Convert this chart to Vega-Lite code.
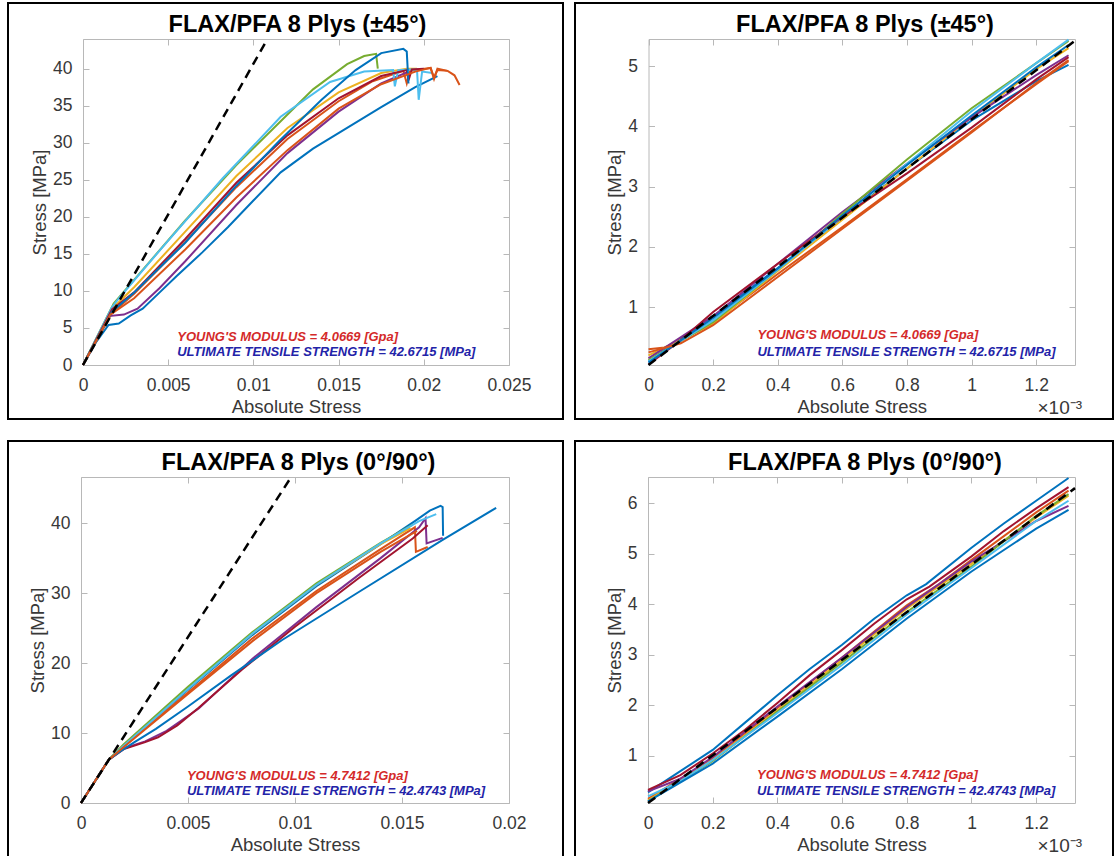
{
  "$schema": "https://vega.github.io/schema/vega-lite/v6.json",
  "background": "white",
  "padding": {"left": 7, "top": 2, "right": 0, "bottom": 0},
  "config": {
    "font": "Liberation Sans",
    "view": {"stroke": "#000000", "strokeWidth": 2},
    "axis": {"grid": false, "domainColor": "#b8b8b8", "domainWidth": 1, "tickColor": "#b8b8b8", "tickSize": -6, "labelFontSize": 17.5, "labelColor": "#383838", "labelFlush": false, "labelOverlap": false, "labelBound": false, "titleFontSize": 18.5, "titleFontWeight": "normal", "titleColor": "#383838", "labelFont": "Liberation Sans", "titleFont": "Liberation Sans"},
    "axisLeft": {"labelPadding": 17, "titlePadding": 3},
    "axisBottom": {"labelPadding": 17, "titlePadding": 4},
    "title": {"fontSize": 23.5, "fontWeight": "bold", "color": "#000000", "font": "Liberation Sans"}
  },
  "datasets": {
    "tl": [
      {"id":"S1","i":0,"strain":0,"stress":0},{"id":"S1","i":1,"strain":0.0008,"stress":3.2},{"id":"S1","i":2,"strain":0.0015,"stress":5.4},{"id":"S1","i":3,"strain":0.0021,"stress":5.6},{"id":"S1","i":4,"strain":0.0028,"stress":6.7},{"id":"S1","i":5,"strain":0.0035,"stress":7.6},{"id":"S1","i":6,"strain":0.0045,"stress":9.8},{"id":"S1","i":7,"strain":0.0055,"stress":12},{"id":"S1","i":8,"strain":0.007,"stress":15.2},{"id":"S1","i":9,"strain":0.0085,"stress":18.6},{"id":"S1","i":10,"strain":0.01,"stress":22.2},{"id":"S1","i":11,"strain":0.0116,"stress":26},{"id":"S1","i":12,"strain":0.0135,"stress":29.2},{"id":"S1","i":13,"strain":0.0155,"stress":32},{"id":"S1","i":14,"strain":0.0175,"stress":34.8},{"id":"S1","i":15,"strain":0.0195,"stress":37.5},{"id":"S1","i":16,"strain":0.0208,"stress":39},
      {"id":"S2","i":0,"strain":0,"stress":0},{"id":"S2","i":1,"strain":0.0017,"stress":7},{"id":"S2","i":2,"strain":0.003,"stress":9.6},{"id":"S2","i":3,"strain":0.006,"stress":16.6},{"id":"S2","i":4,"strain":0.009,"stress":24},{"id":"S2","i":5,"strain":0.012,"stress":30.5},{"id":"S2","i":6,"strain":0.015,"stress":35.6},{"id":"S2","i":7,"strain":0.017,"stress":38.3},{"id":"S2","i":8,"strain":0.0188,"stress":39.7},{"id":"S2","i":9,"strain":0.019,"stress":38},{"id":"S2","i":10,"strain":0.0192,"stress":39.7},{"id":"S2","i":11,"strain":0.0204,"stress":40.1},{"id":"S2","i":12,"strain":0.0206,"stress":38.8},{"id":"S2","i":13,"strain":0.0208,"stress":39.8},{"id":"S2","i":14,"strain":0.0214,"stress":39.7},{"id":"S2","i":15,"strain":0.0218,"stress":39.1},{"id":"S2","i":16,"strain":0.0221,"stress":37.8},
      {"id":"S3","i":0,"strain":0,"stress":0},{"id":"S3","i":1,"strain":0.0018,"stress":7.8},{"id":"S3","i":2,"strain":0.003,"stress":10.5},{"id":"S3","i":3,"strain":0.006,"stress":18},{"id":"S3","i":4,"strain":0.009,"stress":25.5},{"id":"S3","i":5,"strain":0.012,"stress":32},{"id":"S3","i":6,"strain":0.015,"stress":36.8},{"id":"S3","i":7,"strain":0.0175,"stress":39.4},{"id":"S3","i":8,"strain":0.019,"stress":40},{"id":"S3","i":9,"strain":0.0196,"stress":40},
      {"id":"S4","i":0,"strain":0,"stress":0},{"id":"S4","i":1,"strain":0.0015,"stress":6.6},{"id":"S4","i":2,"strain":0.0024,"stress":6.8},{"id":"S4","i":3,"strain":0.0032,"stress":7.6},{"id":"S4","i":4,"strain":0.0045,"stress":10.4},{"id":"S4","i":5,"strain":0.006,"stress":14},{"id":"S4","i":6,"strain":0.009,"stress":21.6},{"id":"S4","i":7,"strain":0.012,"stress":28.6},{"id":"S4","i":8,"strain":0.015,"stress":34.2},{"id":"S4","i":9,"strain":0.0175,"stress":38},{"id":"S4","i":10,"strain":0.019,"stress":39.5},
      {"id":"S5","i":0,"strain":0,"stress":0},{"id":"S5","i":1,"strain":0.0018,"stress":8.3},{"id":"S5","i":2,"strain":0.003,"stress":11.5},{"id":"S5","i":3,"strain":0.006,"stress":19.5},{"id":"S5","i":4,"strain":0.009,"stress":27},{"id":"S5","i":5,"strain":0.0116,"stress":32.9},{"id":"S5","i":6,"strain":0.0135,"stress":37.2},{"id":"S5","i":7,"strain":0.0155,"stress":40.6},{"id":"S5","i":8,"strain":0.0165,"stress":41.7},{"id":"S5","i":9,"strain":0.0172,"stress":42},{"id":"S5","i":10,"strain":0.0173,"stress":40},
      {"id":"S6","i":0,"strain":0,"stress":0},{"id":"S6","i":1,"strain":0.0017,"stress":7.8},{"id":"S6","i":2,"strain":0.0021,"stress":9},{"id":"S6","i":3,"strain":0.005,"stress":16.8},{"id":"S6","i":4,"strain":0.0082,"stress":25.2},{"id":"S6","i":5,"strain":0.0116,"stress":33.5},{"id":"S6","i":6,"strain":0.0145,"stress":38.2},{"id":"S6","i":7,"strain":0.0165,"stress":39.6},{"id":"S6","i":8,"strain":0.0182,"stress":39.8},{"id":"S6","i":9,"strain":0.0183,"stress":37.6},{"id":"S6","i":10,"strain":0.0185,"stress":39.8},{"id":"S6","i":11,"strain":0.0196,"stress":39.9},{"id":"S6","i":12,"strain":0.0197,"stress":35.8},{"id":"S6","i":13,"strain":0.0199,"stress":39.6},{"id":"S6","i":14,"strain":0.0205,"stress":39.4},
      {"id":"S7","i":0,"strain":0,"stress":0},{"id":"S7","i":1,"strain":0.0017,"stress":7.5},{"id":"S7","i":2,"strain":0.003,"stress":9.8},{"id":"S7","i":3,"strain":0.006,"stress":17},{"id":"S7","i":4,"strain":0.009,"stress":24.6},{"id":"S7","i":5,"strain":0.012,"stress":31},{"id":"S7","i":6,"strain":0.015,"stress":36},{"id":"S7","i":7,"strain":0.0175,"stress":39},{"id":"S7","i":8,"strain":0.019,"stress":39.8},{"id":"S7","i":9,"strain":0.0191,"stress":38.4},{"id":"S7","i":10,"strain":0.0193,"stress":39.9},{"id":"S7","i":11,"strain":0.02,"stress":40},
      {"id":"S8","i":0,"strain":0,"stress":0},{"id":"S8","i":1,"strain":0.0017,"stress":7.2},{"id":"S8","i":2,"strain":0.003,"stress":9.8},{"id":"S8","i":3,"strain":0.006,"stress":16.5},{"id":"S8","i":4,"strain":0.009,"stress":24.2},{"id":"S8","i":5,"strain":0.0115,"stress":30.2},{"id":"S8","i":6,"strain":0.014,"stress":35.8},{"id":"S8","i":7,"strain":0.016,"stress":39.8},{"id":"S8","i":8,"strain":0.0175,"stress":42.1},{"id":"S8","i":9,"strain":0.0188,"stress":42.67},{"id":"S8","i":10,"strain":0.019,"stress":42.3},{"id":"S8","i":11,"strain":0.0191,"stress":38},
      {"id":"S9","i":0,"strain":0,"stress":0},{"id":"S9","i":1,"strain":0.0016,"stress":6.8},{"id":"S9","i":2,"strain":0.003,"stress":9},{"id":"S9","i":3,"strain":0.006,"stress":15.6},{"id":"S9","i":4,"strain":0.009,"stress":22.6},{"id":"S9","i":5,"strain":0.012,"stress":29},{"id":"S9","i":6,"strain":0.015,"stress":34.6},{"id":"S9","i":7,"strain":0.0175,"stress":37.9},{"id":"S9","i":8,"strain":0.0195,"stress":39.6},{"id":"S9","i":9,"strain":0.0204,"stress":40.1},{"id":"S9","i":10,"strain":0.0206,"stress":38.6},{"id":"S9","i":11,"strain":0.0208,"stress":40},{"id":"S9","i":12,"strain":0.0214,"stress":39.7}
    ],
    "bl": [
      {"id":"S1","i":0,"strain":0,"stress":0},{"id":"S1","i":1,"strain":0.0013,"stress":6.2},{"id":"S1","i":2,"strain":0.002,"stress":8.2},{"id":"S1","i":3,"strain":0.005,"stress":16.2},{"id":"S1","i":4,"strain":0.008,"stress":24},{"id":"S1","i":5,"strain":0.011,"stress":31},{"id":"S1","i":6,"strain":0.014,"stress":37},{"id":"S1","i":7,"strain":0.0156,"stress":40.3},{"id":"S1","i":8,"strain":0.0163,"stress":41.8},{"id":"S1","i":9,"strain":0.0168,"stress":42.47},{"id":"S1","i":10,"strain":0.0169,"stress":42.3},{"id":"S1","i":11,"strain":0.01692,"stress":38.2},
      {"id":"S2","i":0,"strain":0,"stress":0},{"id":"S2","i":1,"strain":0.0013,"stress":6.2},{"id":"S2","i":2,"strain":0.002,"stress":8.1},{"id":"S2","i":3,"strain":0.005,"stress":15.8},{"id":"S2","i":4,"strain":0.008,"stress":23.5},{"id":"S2","i":5,"strain":0.011,"stress":30.3},{"id":"S2","i":6,"strain":0.014,"stress":36.3},{"id":"S2","i":7,"strain":0.0156,"stress":39.4},{"id":"S2","i":8,"strain":0.01565,"stress":35.9},{"id":"S2","i":9,"strain":0.0162,"stress":36.6},
      {"id":"S3","i":0,"strain":0,"stress":0},{"id":"S3","i":1,"strain":0.0013,"stress":6.2},{"id":"S3","i":2,"strain":0.002,"stress":8.3},{"id":"S3","i":3,"strain":0.005,"stress":16.4},{"id":"S3","i":4,"strain":0.008,"stress":24.2},{"id":"S3","i":5,"strain":0.011,"stress":31.2},{"id":"S3","i":6,"strain":0.014,"stress":37},{"id":"S3","i":7,"strain":0.0154,"stress":39.3},
      {"id":"S4","i":0,"strain":0,"stress":0},{"id":"S4","i":1,"strain":0.0013,"stress":6.2},{"id":"S4","i":2,"strain":0.002,"stress":7.8},{"id":"S4","i":3,"strain":0.003,"stress":8.8},{"id":"S4","i":4,"strain":0.004,"stress":10.3},{"id":"S4","i":5,"strain":0.0055,"stress":13.5},{"id":"S4","i":6,"strain":0.008,"stress":20.6},{"id":"S4","i":7,"strain":0.011,"stress":28},{"id":"S4","i":8,"strain":0.014,"stress":35},{"id":"S4","i":9,"strain":0.0158,"stress":39.4},{"id":"S4","i":10,"strain":0.0161,"stress":40.7},{"id":"S4","i":11,"strain":0.01615,"stress":37.1},{"id":"S4","i":12,"strain":0.0169,"stress":37.9},
      {"id":"S5","i":0,"strain":0,"stress":0},{"id":"S5","i":1,"strain":0.0013,"stress":6.2},{"id":"S5","i":2,"strain":0.002,"stress":8.4},{"id":"S5","i":3,"strain":0.005,"stress":16.6},{"id":"S5","i":4,"strain":0.008,"stress":24.4},{"id":"S5","i":5,"strain":0.011,"stress":31.4},{"id":"S5","i":6,"strain":0.014,"stress":37.2},{"id":"S5","i":7,"strain":0.0155,"stress":39.8},
      {"id":"S6","i":0,"strain":0,"stress":0},{"id":"S6","i":1,"strain":0.0013,"stress":6.2},{"id":"S6","i":2,"strain":0.002,"stress":8.2},{"id":"S6","i":3,"strain":0.005,"stress":16.3},{"id":"S6","i":4,"strain":0.008,"stress":24.2},{"id":"S6","i":5,"strain":0.011,"stress":31.2},{"id":"S6","i":6,"strain":0.014,"stress":37.1},{"id":"S6","i":7,"strain":0.0158,"stress":40.3},{"id":"S6","i":8,"strain":0.0166,"stress":41.3},
      {"id":"S7","i":0,"strain":0,"stress":0},{"id":"S7","i":1,"strain":0.0013,"stress":6.2},{"id":"S7","i":2,"strain":0.002,"stress":7.7},{"id":"S7","i":3,"strain":0.003,"stress":8.7},{"id":"S7","i":4,"strain":0.0036,"stress":9.4},{"id":"S7","i":5,"strain":0.0045,"stress":11.1},{"id":"S7","i":6,"strain":0.0055,"stress":13.6},{"id":"S7","i":7,"strain":0.0075,"stress":19},{"id":"S7","i":8,"strain":0.01,"stress":25.2},{"id":"S7","i":9,"strain":0.013,"stress":32.2},{"id":"S7","i":10,"strain":0.0155,"stress":37.8},{"id":"S7","i":11,"strain":0.0162,"stress":39.7},
      {"id":"S8","i":0,"strain":0,"stress":0},{"id":"S8","i":1,"strain":0.0013,"stress":6.2},{"id":"S8","i":2,"strain":0.0018,"stress":7.3},{"id":"S8","i":3,"strain":0.0025,"stress":8.7},{"id":"S8","i":4,"strain":0.0035,"stress":10.6},{"id":"S8","i":5,"strain":0.005,"stress":13.8},{"id":"S8","i":6,"strain":0.007,"stress":18.2},{"id":"S8","i":7,"strain":0.0094,"stress":23.3},{"id":"S8","i":8,"strain":0.013,"stress":30.2},{"id":"S8","i":9,"strain":0.0169,"stress":37.6},{"id":"S8","i":10,"strain":0.0194,"stress":42.2},
      {"id":"S9","i":0,"strain":0,"stress":0},{"id":"S9","i":1,"strain":0.0013,"stress":6.2},{"id":"S9","i":2,"strain":0.002,"stress":8},{"id":"S9","i":3,"strain":0.005,"stress":15.6},{"id":"S9","i":4,"strain":0.008,"stress":23.1},{"id":"S9","i":5,"strain":0.011,"stress":30},{"id":"S9","i":6,"strain":0.014,"stress":35.9},{"id":"S9","i":7,"strain":0.0157,"stress":38.9}
    ],
    "tr": [
      {"id":"S1","i":0,"strain":0,"stress":0.1},{"id":"S1","i":1,"strain":0.0002,"stress":0.85},{"id":"S1","i":2,"strain":0.0004,"stress":1.65},{"id":"S1","i":3,"strain":0.0006,"stress":2.48},{"id":"S1","i":4,"strain":0.0008,"stress":3.3},{"id":"S1","i":5,"strain":0.001,"stress":4.1},{"id":"S1","i":6,"strain":0.0012,"stress":4.75},{"id":"S1","i":7,"strain":0.0013,"stress":5.02},
      {"id":"S2","i":0,"strain":0,"stress":0.3},{"id":"S2","i":1,"strain":0.00005,"stress":0.33},{"id":"S2","i":2,"strain":0.0001,"stress":0.45},{"id":"S2","i":3,"strain":0.0002,"stress":0.75},{"id":"S2","i":4,"strain":0.0004,"stress":1.55},{"id":"S2","i":5,"strain":0.0006,"stress":2.33},{"id":"S2","i":6,"strain":0.0008,"stress":3.12},{"id":"S2","i":7,"strain":0.001,"stress":3.92},{"id":"S2","i":8,"strain":0.0012,"stress":4.7},{"id":"S2","i":9,"strain":0.0013,"stress":5.08},
      {"id":"S3","i":0,"strain":0,"stress":0.2},{"id":"S3","i":1,"strain":0.0002,"stress":0.72},{"id":"S3","i":2,"strain":0.0004,"stress":1.6},{"id":"S3","i":3,"strain":0.0006,"stress":2.45},{"id":"S3","i":4,"strain":0.0008,"stress":3.3},{"id":"S3","i":5,"strain":0.001,"stress":4.15},{"id":"S3","i":6,"strain":0.0012,"stress":4.95},{"id":"S3","i":7,"strain":0.0013,"stress":5.3},
      {"id":"S4","i":0,"strain":0,"stress":0.15},{"id":"S4","i":1,"strain":0.0002,"stress":0.85},{"id":"S4","i":2,"strain":0.0004,"stress":1.72},{"id":"S4","i":3,"strain":0.0006,"stress":2.58},{"id":"S4","i":4,"strain":0.0008,"stress":3.38},{"id":"S4","i":5,"strain":0.001,"stress":4.15},{"id":"S4","i":6,"strain":0.0012,"stress":4.85},{"id":"S4","i":7,"strain":0.0013,"stress":5.18},
      {"id":"S5","i":0,"strain":0,"stress":0.12},{"id":"S5","i":1,"strain":0.0002,"stress":0.75},{"id":"S5","i":2,"strain":0.0004,"stress":1.62},{"id":"S5","i":3,"strain":0.0006,"stress":2.55},{"id":"S5","i":4,"strain":0.0008,"stress":3.45},{"id":"S5","i":5,"strain":0.001,"stress":4.3},{"id":"S5","i":6,"strain":0.0012,"stress":5.05},{"id":"S5","i":7,"strain":0.0013,"stress":5.42},
      {"id":"S6","i":0,"strain":0,"stress":0.1},{"id":"S6","i":1,"strain":0.0002,"stress":0.78},{"id":"S6","i":2,"strain":0.0004,"stress":1.62},{"id":"S6","i":3,"strain":0.0006,"stress":2.5},{"id":"S6","i":4,"strain":0.0008,"stress":3.38},{"id":"S6","i":5,"strain":0.001,"stress":4.25},{"id":"S6","i":6,"strain":0.0012,"stress":5.05},{"id":"S6","i":7,"strain":0.0013,"stress":5.44},
      {"id":"S7","i":0,"strain":0,"stress":0.05},{"id":"S7","i":1,"strain":0.0001,"stress":0.45},{"id":"S7","i":2,"strain":0.0002,"stress":0.92},{"id":"S7","i":3,"strain":0.0004,"stress":1.72},{"id":"S7","i":4,"strain":0.0006,"stress":2.5},{"id":"S7","i":5,"strain":0.0008,"stress":3.22},{"id":"S7","i":6,"strain":0.001,"stress":3.98},{"id":"S7","i":7,"strain":0.0012,"stress":4.78},{"id":"S7","i":8,"strain":0.0013,"stress":5.15},
      {"id":"S8","i":0,"strain":0,"stress":0.08},{"id":"S8","i":1,"strain":0.0002,"stress":0.82},{"id":"S8","i":2,"strain":0.0004,"stress":1.64},{"id":"S8","i":3,"strain":0.0006,"stress":2.52},{"id":"S8","i":4,"strain":0.0008,"stress":3.36},{"id":"S8","i":5,"strain":0.001,"stress":4.18},{"id":"S8","i":6,"strain":0.0012,"stress":4.98},{"id":"S8","i":7,"strain":0.0013,"stress":5.35},
      {"id":"S9","i":0,"strain":0,"stress":0.25},{"id":"S9","i":1,"strain":0.0001,"stress":0.4},{"id":"S9","i":2,"strain":0.0002,"stress":0.7},{"id":"S9","i":3,"strain":0.0004,"stress":1.5},{"id":"S9","i":4,"strain":0.0006,"stress":2.3},{"id":"S9","i":5,"strain":0.0008,"stress":3.1},{"id":"S9","i":6,"strain":0.001,"stress":3.9},{"id":"S9","i":7,"strain":0.0012,"stress":4.72},{"id":"S9","i":8,"strain":0.0013,"stress":5.1}
    ],
    "br": [
      {"id":"S1","i":0,"strain":0,"stress":0.28},{"id":"S1","i":1,"strain":0.0001,"stress":0.7},{"id":"S1","i":2,"strain":0.0002,"stress":1.12},{"id":"S1","i":3,"strain":0.0003,"stress":1.66},{"id":"S1","i":4,"strain":0.0004,"stress":2.2},{"id":"S1","i":5,"strain":0.0005,"stress":2.72},{"id":"S1","i":6,"strain":0.0006,"stress":3.2},{"id":"S1","i":7,"strain":0.0007,"stress":3.72},{"id":"S1","i":8,"strain":0.0008,"stress":4.18},{"id":"S1","i":9,"strain":0.00086,"stress":4.4},{"id":"S1","i":10,"strain":0.001,"stress":5.12},{"id":"S1","i":11,"strain":0.0011,"stress":5.6},{"id":"S1","i":12,"strain":0.0012,"stress":6.05},{"id":"S1","i":13,"strain":0.0013,"stress":6.5},
      {"id":"S2","i":0,"strain":0,"stress":0.15},{"id":"S2","i":1,"strain":0.0002,"stress":0.95},{"id":"S2","i":2,"strain":0.0004,"stress":1.95},{"id":"S2","i":3,"strain":0.0006,"stress":2.95},{"id":"S2","i":4,"strain":0.0008,"stress":3.98},{"id":"S2","i":5,"strain":0.0009,"stress":4.4},{"id":"S2","i":6,"strain":0.001,"stress":4.88},{"id":"S2","i":7,"strain":0.0012,"stress":5.82},{"id":"S2","i":8,"strain":0.0013,"stress":6.25},
      {"id":"S3","i":0,"strain":0,"stress":0.12},{"id":"S3","i":1,"strain":0.0002,"stress":0.92},{"id":"S3","i":2,"strain":0.0004,"stress":1.9},{"id":"S3","i":3,"strain":0.0006,"stress":2.9},{"id":"S3","i":4,"strain":0.0008,"stress":3.92},{"id":"S3","i":5,"strain":0.001,"stress":4.8},{"id":"S3","i":6,"strain":0.0012,"stress":5.72},{"id":"S3","i":7,"strain":0.0013,"stress":6.15},
      {"id":"S4","i":0,"strain":0,"stress":0.3},{"id":"S4","i":1,"strain":0.0001,"stress":0.55},{"id":"S4","i":2,"strain":0.0002,"stress":0.98},{"id":"S4","i":3,"strain":0.0004,"stress":1.98},{"id":"S4","i":4,"strain":0.0006,"stress":2.95},{"id":"S4","i":5,"strain":0.0008,"stress":3.95},{"id":"S4","i":6,"strain":0.0009,"stress":4.4},{"id":"S4","i":7,"strain":0.001,"stress":4.85},{"id":"S4","i":8,"strain":0.0012,"stress":5.65},{"id":"S4","i":9,"strain":0.0013,"stress":5.95},
      {"id":"S5","i":0,"strain":0,"stress":0.1},{"id":"S5","i":1,"strain":0.0002,"stress":0.9},{"id":"S5","i":2,"strain":0.0004,"stress":1.88},{"id":"S5","i":3,"strain":0.0006,"stress":2.85},{"id":"S5","i":4,"strain":0.0008,"stress":3.85},{"id":"S5","i":5,"strain":0.001,"stress":4.75},{"id":"S5","i":6,"strain":0.0012,"stress":5.75},{"id":"S5","i":7,"strain":0.0013,"stress":6.18},
      {"id":"S6","i":0,"strain":0,"stress":0.2},{"id":"S6","i":1,"strain":0.0001,"stress":0.5},{"id":"S6","i":2,"strain":0.0002,"stress":0.92},{"id":"S6","i":3,"strain":0.0004,"stress":1.85},{"id":"S6","i":4,"strain":0.0006,"stress":2.8},{"id":"S6","i":5,"strain":0.0008,"stress":3.8},{"id":"S6","i":6,"strain":0.001,"stress":4.72},{"id":"S6","i":7,"strain":0.0012,"stress":5.65},{"id":"S6","i":8,"strain":0.0013,"stress":6.05},
      {"id":"S7","i":0,"strain":0,"stress":0.33},{"id":"S7","i":1,"strain":0.0001,"stress":0.62},{"id":"S7","i":2,"strain":0.0002,"stress":1.05},{"id":"S7","i":3,"strain":0.0003,"stress":1.52},{"id":"S7","i":4,"strain":0.0004,"stress":2.05},{"id":"S7","i":5,"strain":0.0005,"stress":2.6},{"id":"S7","i":6,"strain":0.0006,"stress":3.1},{"id":"S7","i":7,"strain":0.0007,"stress":3.62},{"id":"S7","i":8,"strain":0.0008,"stress":4.1},{"id":"S7","i":9,"strain":0.00087,"stress":4.35},{"id":"S7","i":10,"strain":0.001,"stress":4.95},{"id":"S7","i":11,"strain":0.0011,"stress":5.45},{"id":"S7","i":12,"strain":0.0012,"stress":5.9},{"id":"S7","i":13,"strain":0.0013,"stress":6.32},
      {"id":"S8","i":0,"strain":0,"stress":0.1},{"id":"S8","i":1,"strain":0.0002,"stress":0.85},{"id":"S8","i":2,"strain":0.0004,"stress":1.78},{"id":"S8","i":3,"strain":0.0006,"stress":2.72},{"id":"S8","i":4,"strain":0.0008,"stress":3.72},{"id":"S8","i":5,"strain":0.001,"stress":4.65},{"id":"S8","i":6,"strain":0.0012,"stress":5.5},{"id":"S8","i":7,"strain":0.0013,"stress":5.87}
    ]
  },
  "vconcat": [
    {
      "spacing": 10,
      "hconcat": [
        {
          "width": 555, "height": 416,
          "title": {"text": "FLAX/PFA 8 Plys (±45°)", "frame": "group", "anchor": "middle", "offset": -30, "dy": 22, "baseline": "alphabetic", "dx": 12},
          "layer": [
            {"data": {"name": "tl"}, "mark": {"type": "line", "strokeWidth": 2},
             "encoding": {
               "x": {"field": "strain", "type": "quantitative", "scale": {"domain": [0, 0.025], "range": [75, 501], "nice": false, "zero": false}, "axis": {"orient": "bottom", "offset": -54, "values": [0, 0.005, 0.01, 0.015, 0.02, 0.025], "format": ".3~f", "title": "Absolute Stress"}},
               "y": {"field": "stress", "type": "quantitative", "scale": {"domain": [0, 44], "range": [362, 36], "nice": false, "zero": false}, "axis": {"orient": "left", "offset": -75, "values": [0, 5, 10, 15, 20, 25, 30, 35, 40], "format": "d", "title": "Stress [MPa]"}},
               "color": {"field": "id", "type": "nominal", "scale": {"domain": ["S1","S2","S3","S4","S5","S6","S7","S8","S9"], "range": ["#0072BD","#D95319","#EDB120","#7E2F8E","#77AC30","#4DBEEE","#A2142F","#0072BD","#D95319"]}, "legend": null},
               "order": {"field": "i", "type": "quantitative"}
             }},
            {"data": {"values": [{"strain": 0, "stress": 0}, {"strain": 0.0108, "stress": 43.9}]}, "mark": {"type": "line", "color": "#000000", "strokeDash": [9, 6], "strokeWidth": 2.5},
             "encoding": {
               "x": {"field": "strain", "type": "quantitative", "axis": {"orient": "top", "offset": -36, "values": [0, 0.005, 0.01, 0.015, 0.02, 0.025], "labels": false, "title": null}},
               "y": {"field": "stress", "type": "quantitative", "axis": {"orient": "right", "offset": -54, "values": [0, 5, 10, 15, 20, 25, 30, 35, 40], "labels": false, "title": null}}
             }},
            {"data": {"values": [{"strain": 0.00553, "stress": 3.8, "label": "YOUNG'S MODULUS = 4.0669 [Gpa]"}]}, "mark": {"type": "text", "align": "left", "baseline": "middle", "font": "Liberation Sans", "fontStyle": "italic", "fontWeight": "bold", "fontSize": 13, "color": "#d42a2a"},
             "encoding": {"x": {"field": "strain", "type": "quantitative", "axis": null}, "y": {"field": "stress", "type": "quantitative", "axis": null}, "text": {"field": "label"}}},
            {"data": {"values": [{"strain": 0.00553, "stress": 1.75, "label": "ULTIMATE TENSILE STRENGTH = 42.6715 [MPa]"}]}, "mark": {"type": "text", "align": "left", "baseline": "middle", "font": "Liberation Sans", "fontStyle": "italic", "fontWeight": "bold", "fontSize": 13, "color": "#2323a8"},
             "encoding": {"x": {"field": "strain", "type": "quantitative", "axis": null}, "y": {"field": "stress", "type": "quantitative", "axis": null}, "text": {"field": "label"}}}
          ],
          "resolve": {"axis": {"x": "independent", "y": "independent"}}
        },
        {
          "width": 538, "height": 416,
          "title": {"text": "FLAX/PFA 8 Plys (±45°)", "frame": "group", "anchor": "middle", "offset": -30, "dy": 22, "baseline": "alphabetic", "dx": 21},
          "layer": [
            {"data": {"name": "tr"}, "mark": {"type": "line", "strokeWidth": 2},
             "encoding": {
               "x": {"field": "strain", "type": "quantitative", "scale": {"domain": [0, 0.00132], "range": [73.5, 500], "nice": false, "zero": false}, "axis": {"orient": "bottom", "offset": -54, "values": [0, 0.0002, 0.0004, 0.0006, 0.0008, 0.001, 0.0012], "labelExpr": "format(datum.value * 1000, '.1~f')", "title": "Absolute Stress"}},
               "y": {"field": "stress", "type": "quantitative", "scale": {"domain": [0.04, 5.45], "range": [362, 36], "nice": false, "zero": false}, "axis": {"orient": "left", "offset": -73.5, "values": [1, 2, 3, 4, 5], "format": "d", "title": "Stress [MPa]"}},
               "color": {"field": "id", "type": "nominal", "scale": {"domain": ["S1","S2","S3","S4","S5","S6","S7","S8","S9"], "range": ["#0072BD","#D95319","#EDB120","#7E2F8E","#77AC30","#4DBEEE","#A2142F","#0072BD","#D95319"]}, "legend": null},
               "order": {"field": "i", "type": "quantitative"}
             }},
            {"data": {"values": [{"strain": 0, "stress": 0.04}, {"strain": 0.00132, "stress": 5.42}]}, "mark": {"type": "line", "color": "#000000", "strokeDash": [9, 6], "strokeWidth": 2.5},
             "encoding": {
               "x": {"field": "strain", "type": "quantitative", "axis": {"orient": "top", "offset": -36, "values": [0, 0.0002, 0.0004, 0.0006, 0.0008, 0.001, 0.0012], "labels": false, "title": "×10⁻³", "titleX": 462, "titleY": 374, "titleAlign": "left", "titleBaseline": "alphabetic", "titleAngle": 0, "titleFontSize": 19}},
               "y": {"field": "stress", "type": "quantitative", "axis": {"orient": "right", "offset": -38, "values": [1, 2, 3, 4, 5], "labels": false, "title": null}}
             }},
            {"data": {"values": [{"strain": 0.000337, "stress": 0.545, "label": "YOUNG'S MODULUS = 4.0669 [Gpa]"}]}, "mark": {"type": "text", "align": "left", "baseline": "middle", "font": "Liberation Sans", "fontStyle": "italic", "fontWeight": "bold", "fontSize": 13, "color": "#d42a2a"},
             "encoding": {"x": {"field": "strain", "type": "quantitative", "axis": null}, "y": {"field": "stress", "type": "quantitative", "axis": null}, "text": {"field": "label"}}},
            {"data": {"values": [{"strain": 0.000337, "stress": 0.255, "label": "ULTIMATE TENSILE STRENGTH = 42.6715 [MPa]"}]}, "mark": {"type": "text", "align": "left", "baseline": "middle", "font": "Liberation Sans", "fontStyle": "italic", "fontWeight": "bold", "fontSize": 13, "color": "#2323a8"},
             "encoding": {"x": {"field": "strain", "type": "quantitative", "axis": null}, "y": {"field": "stress", "type": "quantitative", "axis": null}, "text": {"field": "label"}}}
          ],
          "resolve": {"axis": {"x": "independent", "y": "independent"}}
        }
      ]
    },
    {
      "spacing": 10,
      "hconcat": [
        {
          "width": 555, "height": 418,
          "title": {"text": "FLAX/PFA 8 Plys (0°/90°)", "frame": "group", "anchor": "middle", "offset": -30, "dy": 22, "baseline": "alphabetic", "dx": 13},
          "layer": [
            {"data": {"name": "bl"}, "mark": {"type": "line", "strokeWidth": 2},
             "encoding": {
               "x": {"field": "strain", "type": "quantitative", "scale": {"domain": [0, 0.02], "range": [73, 501], "nice": false, "zero": false}, "axis": {"orient": "bottom", "offset": -56, "values": [0, 0.005, 0.01, 0.015, 0.02], "format": ".3~f", "title": "Absolute Stress"}},
               "y": {"field": "stress", "type": "quantitative", "scale": {"domain": [0, 46.6], "range": [362, 36], "nice": false, "zero": false}, "axis": {"orient": "left", "offset": -73, "values": [0, 10, 20, 30, 40], "format": "d", "title": "Stress [MPa]"}},
               "color": {"field": "id", "type": "nominal", "scale": {"domain": ["S1","S2","S3","S4","S5","S6","S7","S8","S9"], "range": ["#0072BD","#D95319","#EDB120","#7E2F8E","#77AC30","#4DBEEE","#A2142F","#0072BD","#D95319"]}, "legend": null},
               "order": {"field": "i", "type": "quantitative"}
             }},
            {"data": {"values": [{"strain": 0, "stress": 0}, {"strain": 0.0098, "stress": 46.5}]}, "mark": {"type": "line", "color": "#000000", "strokeDash": [9, 6], "strokeWidth": 2.5},
             "encoding": {
               "x": {"field": "strain", "type": "quantitative", "axis": {"orient": "top", "offset": -36, "values": [0, 0.005, 0.01, 0.015, 0.02], "labels": false, "title": null}},
               "y": {"field": "stress", "type": "quantitative", "axis": {"orient": "right", "offset": -54, "values": [0, 10, 20, 30, 40], "labels": false, "title": null}}
             }},
            {"data": {"values": [{"strain": 0.00495, "stress": 3.86, "label": "YOUNG'S MODULUS = 4.7412 [Gpa]"}]}, "mark": {"type": "text", "align": "left", "baseline": "middle", "font": "Liberation Sans", "fontStyle": "italic", "fontWeight": "bold", "fontSize": 13, "color": "#d42a2a"},
             "encoding": {"x": {"field": "strain", "type": "quantitative", "axis": null}, "y": {"field": "stress", "type": "quantitative", "axis": null}, "text": {"field": "label"}}},
            {"data": {"values": [{"strain": 0.00495, "stress": 1.71, "label": "ULTIMATE TENSILE STRENGTH = 42.4743 [MPa]"}]}, "mark": {"type": "text", "align": "left", "baseline": "middle", "font": "Liberation Sans", "fontStyle": "italic", "fontWeight": "bold", "fontSize": 13, "color": "#2323a8"},
             "encoding": {"x": {"field": "strain", "type": "quantitative", "axis": null}, "y": {"field": "stress", "type": "quantitative", "axis": null}, "text": {"field": "label"}}}
          ],
          "resolve": {"axis": {"x": "independent", "y": "independent"}}
        },
        {
          "width": 538, "height": 418,
          "title": {"text": "FLAX/PFA 8 Plys (0°/90°)", "frame": "group", "anchor": "middle", "offset": -30, "dy": 22, "baseline": "alphabetic", "dx": 21},
          "layer": [
            {"data": {"name": "br"}, "mark": {"type": "line", "strokeWidth": 2},
             "encoding": {
               "x": {"field": "strain", "type": "quantitative", "scale": {"domain": [0, 0.00132], "range": [73, 500], "nice": false, "zero": false}, "axis": {"orient": "bottom", "offset": -56, "values": [0, 0.0002, 0.0004, 0.0006, 0.0008, 0.001, 0.0012], "labelExpr": "format(datum.value * 1000, '.1~f')", "title": "Absolute Stress"}},
               "y": {"field": "stress", "type": "quantitative", "scale": {"domain": [0.07, 6.52], "range": [362, 36], "nice": false, "zero": false}, "axis": {"orient": "left", "offset": -73, "values": [1, 2, 3, 4, 5, 6], "format": "d", "title": "Stress [MPa]"}},
               "color": {"field": "id", "type": "nominal", "scale": {"domain": ["S1","S2","S3","S4","S5","S6","S7","S8","S9"], "range": ["#0072BD","#D95319","#EDB120","#7E2F8E","#77AC30","#4DBEEE","#A2142F","#0072BD","#D95319"]}, "legend": null},
               "order": {"field": "i", "type": "quantitative"}
             }},
            {"data": {"values": [{"strain": 0, "stress": 0.07}, {"strain": 0.00132, "stress": 6.3}]}, "mark": {"type": "line", "color": "#000000", "strokeDash": [9, 6], "strokeWidth": 2.5},
             "encoding": {
               "x": {"field": "strain", "type": "quantitative", "axis": {"orient": "top", "offset": -36, "values": [0, 0.0002, 0.0004, 0.0006, 0.0008, 0.001, 0.0012], "labels": false, "title": "×10⁻³", "titleX": 462, "titleY": 374, "titleAlign": "left", "titleBaseline": "alphabetic", "titleAngle": 0, "titleFontSize": 19}},
               "y": {"field": "stress", "type": "quantitative", "axis": {"orient": "right", "offset": -38, "values": [1, 2, 3, 4, 5, 6], "labels": false, "title": null}}
             }},
            {"data": {"values": [{"strain": 0.000337, "stress": 0.63, "label": "YOUNG'S MODULUS = 4.7412 [Gpa]"}]}, "mark": {"type": "text", "align": "left", "baseline": "middle", "font": "Liberation Sans", "fontStyle": "italic", "fontWeight": "bold", "fontSize": 13, "color": "#d42a2a"},
             "encoding": {"x": {"field": "strain", "type": "quantitative", "axis": null}, "y": {"field": "stress", "type": "quantitative", "axis": null}, "text": {"field": "label"}}},
            {"data": {"values": [{"strain": 0.000337, "stress": 0.3, "label": "ULTIMATE TENSILE STRENGTH = 42.4743 [MPa]"}]}, "mark": {"type": "text", "align": "left", "baseline": "middle", "font": "Liberation Sans", "fontStyle": "italic", "fontWeight": "bold", "fontSize": 13, "color": "#2323a8"},
             "encoding": {"x": {"field": "strain", "type": "quantitative", "axis": null}, "y": {"field": "stress", "type": "quantitative", "axis": null}, "text": {"field": "label"}}}
          ],
          "resolve": {"axis": {"x": "independent", "y": "independent"}}
        }
      ]
    }
  ],
  "spacing": 20
}
